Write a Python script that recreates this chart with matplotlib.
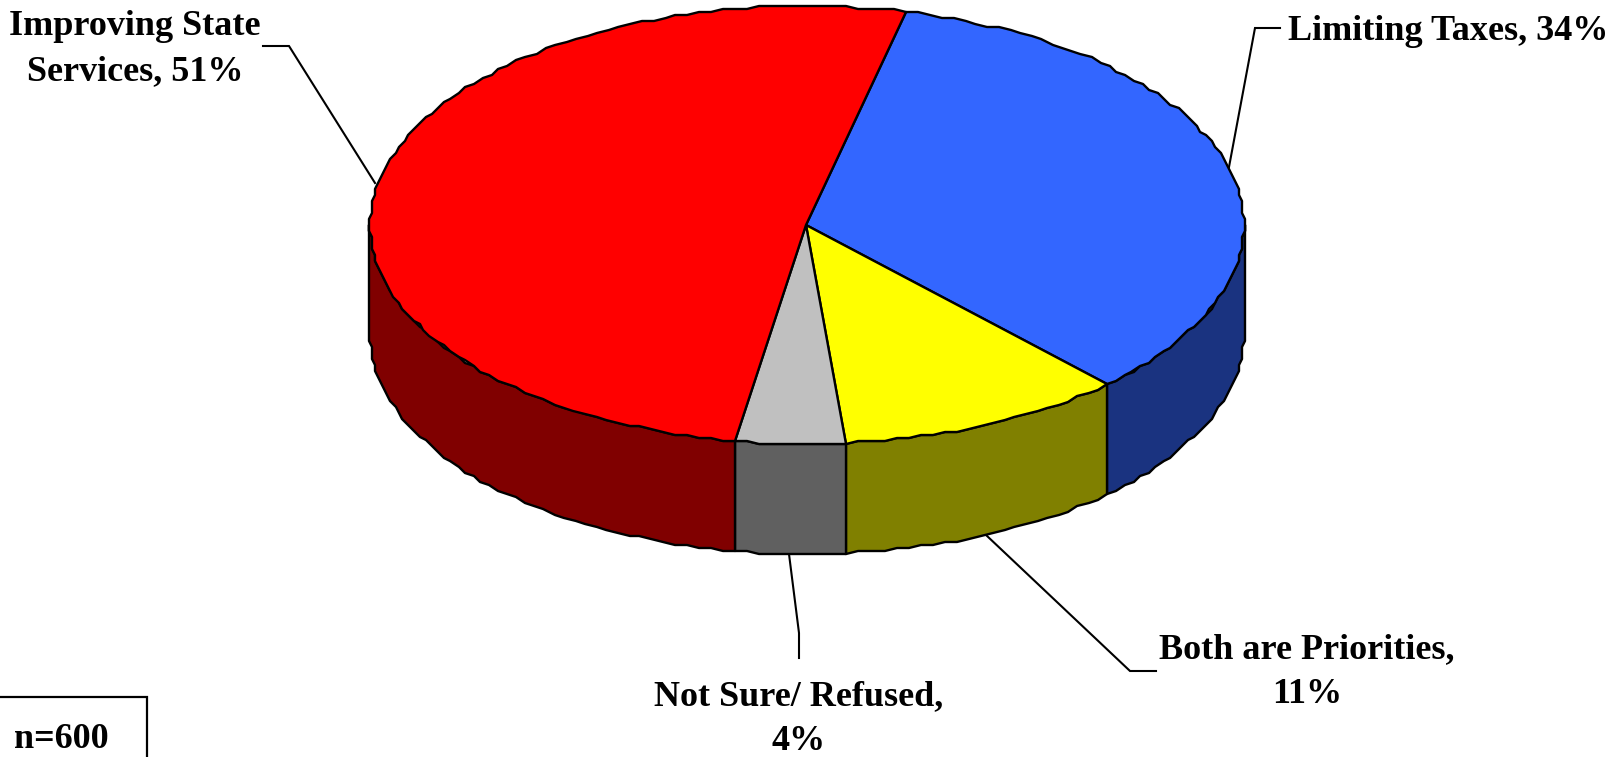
import numpy as np
import matplotlib
matplotlib.use("Agg")
import matplotlib.pyplot as plt
from matplotlib.patches import Polygon

# Data (slice sizes; labels show them rounded)
categories = ["Limiting Taxes", "Both are Priorities", "Not Sure/ Refused", "Improving State Services"]
values = [34.3, 10.6, 4.1, 51.0]
label_texts = ["Limiting Taxes, 34%", "Both are Priorities,\n11%", "Not Sure/ Refused,\n4%",
               "Improving State\nServices, 51%"]
top_colors = ["#3366FF", "#FFFF00", "#C0C0C0", "#FF0000"]
side_colors = ["#1A3380", "#808000", "#606060", "#800000"]
sample_note = "n=600"

# Layout (pixels of the 1619x757 figure)
W, H = 1619, 757
CX, CY, RX, RY, DEPTH = 807, 225, 437, 219, 110
START = 13.2
LW = 1.7
FS = 26
GRID = 3.0      # coarse pixel grid of the original's stepped outline
STEP = 1.6      # degrees between outline vertices

plt.rcParams['font.family'] = ['Liberation Serif', 'DejaVu Serif']
fig = plt.figure(figsize=(W / 100, H / 100), dpi=100)
ax = fig.add_axes([0, 0, 1, 1])
ax.set_xlim(0, W)
ax.set_ylim(H, 0)
ax.axis("off")


def rim(deg, dy=0):
    a = np.radians(deg)
    pts = np.column_stack([CX + RX * np.sin(a), CY - RY * np.cos(a)])
    pts = np.round(pts / GRID) * GRID
    pts[:, 1] += dy
    return pts


def arc(a0, a1):
    n = max(2, int(abs(a1 - a0) / STEP) + 1)
    return np.linspace(a0, a1, n)


edges = START + np.concatenate([[0], np.cumsum(values)]) * 360 / sum(values)

# Walls: only the front half of the rim (90..270 degrees clockwise from top)
for i in range(len(values)):
    a0, a1 = max(edges[i], 90), min(edges[i + 1], 270)
    if a1 <= a0:
        continue
    t = arc(a0, a1)
    pts = np.vstack([rim(t), rim(t[::-1], DEPTH)])
    ax.add_patch(Polygon(pts, closed=True, fc=side_colors[i], ec="black", lw=LW, joinstyle="round", zorder=2))

# Top wedges
for i in range(len(values)):
    t = arc(edges[i], edges[i + 1])
    pts = np.vstack([[[CX - 1, CY]], rim(t)])
    ax.add_patch(Polygon(pts, closed=True, fc=top_colors[i], ec="black", lw=LW, joinstyle="round", zorder=3))

# Leader lines
leaders = [
    ([1280, 1255, 1229], [28, 28, 167]),
    ([986, 1130, 1156], [535, 671, 671]),
    ([789, 799, 799], [554, 633, 658]),
    ([263, 289, 375], [46, 46, 183]),
]
for xs, ys in leaders:
    ax.plot(xs, ys, color="black", lw=1.5, solid_joinstyle="miter", zorder=1)

# Labels
positions = [(1448, 32), (1307, 672), (799, 719), (135, 49)]
for txt, (x, y) in zip(label_texts, positions):
    ax.text(x, y, txt, ha="center", va="center", fontsize=FS, fontweight="bold",
            color="black", linespacing=1.48, zorder=5)

# Sample-size box, running off the figure's lower-left corner
ax.plot([-5, 147, 147], [697, 697, H + 5], color="black", lw=1.6, solid_joinstyle="miter")
ax.text(61, 739, sample_note, ha="center", va="center", fontsize=FS, fontweight="bold", color="black")

fig.savefig("out.png", dpi=100, facecolor="white")
